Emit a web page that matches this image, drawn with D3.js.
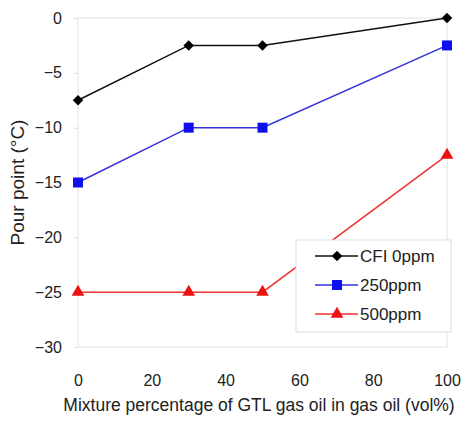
<!DOCTYPE html>
<html>
  <head>
    <meta charset="UTF-8">
    <style>
      body { margin: 0; background: white; font-family: "Liberation Sans", Arial, sans-serif; }
      svg text { fill: #222; }
      .axis text { font-size: 16px; font-family: "Liberation Sans", Arial, sans-serif; }
      .axis line, .axis .domain { stroke: #ddd; }
    </style>
    <script src="https://d3js.org/d3.v7.min.js"></script>
  </head>
  <body>
    <svg id="chart"></svg>
    <script>
      let xValues = [0, 30, 50, 100]
      let seriesNames = ['CFI 0ppm', '250ppm', '500ppm']
      let cfi0 = [-7.5, -2.5, -2.5, 0]
      let cfi250 = [-15, -10, -10, -2.5]
      let cfi500 = [-25, -25, -25, -12.5]
      let xTicks = [0, 20, 40, 60, 80, 100]
      let yTicks = [0, -5, -10, -15, -20, -25, -30]

      let width = 465, height = 421
      let margin = { left: 78, right: 18, top: 18, bottom: 74 }
      let svg = d3.select('#chart').attr('width', width).attr('height', height)

      let x = d3.scaleLinear().domain([0, 100]).range([margin.left, width - margin.right])
      let y = d3.scaleLinear().domain([-30, 0]).range([height - margin.bottom, margin.top])

      // frame
      svg.append('rect')
        .attr('x', x(0)).attr('y', y(0))
        .attr('width', x(100) - x(0)).attr('height', y(-30) - y(0))
        .attr('fill', 'none').attr('stroke', '#e2e2e2')

      svg.append('g')
        .attr('class', 'axis')
        .attr('transform', `translate(0,${y(-30)})`)
        .call(d3.axisBottom(x).tickValues(xTicks).tickSize(0).tickPadding(28))
        .select('.domain').remove()

      svg.append('g')
        .attr('class', 'axis')
        .attr('transform', `translate(${x(0)},0)`)
        .call(d3.axisLeft(y).tickValues(yTicks).tickSize(4).tickPadding(12)
          .tickFormat(d => d < 0 ? '\u2212' + Math.abs(d) : d))
        .select('.domain').remove()

      svg.append('text')
        .attr('x', 259).attr('y', 411)
        .attr('text-anchor', 'middle').attr('font-size', 17.5)
        .text('Mixture percentage of GTL gas oil in gas oil (vol%)')

      svg.append('text')
        .attr('transform', `translate(24,${(y(0) + y(-30)) / 2}) rotate(-90)`)
        .attr('text-anchor', 'middle').attr('font-size', 19)
        .text('Pour point (°C)')

      let series = [
        { name: seriesNames[0], values: cfi0, color: '#000', shape: d3.symbolDiamond2, size: 70 },
        { name: seriesNames[1], values: cfi250, color: '#1010ee', shape: d3.symbolSquare, size: 100 },
        { name: seriesNames[2], values: cfi500, color: '#ee1111', shape: d3.symbolTriangle, size: 70 }
      ]
      let lineColors = ['#111', '#3333dd', '#ee3333']

      let line = d3.line().x(d => x(d[0])).y(d => y(d[1]))

      series.forEach((s, i) => {
        let pts = xValues.map((v, j) => [v, s.values[j]])
        svg.append('path').datum(pts)
          .attr('d', line).attr('fill', 'none')
          .attr('stroke', lineColors[i]).attr('stroke-width', 1.5)
        svg.selectAll(null).data(pts).enter().append('path')
          .attr('transform', d => `translate(${x(d[0])},${y(d[1])})`)
          .attr('d', d3.symbol().type(s.shape).size(s.size))
          .attr('fill', s.color)
      })

      // legend
      let lg = svg.append('g').attr('transform', 'translate(296,240)')
      lg.append('rect').attr('width', 155).attr('height', 92)
        .attr('fill', 'white').attr('stroke', '#ddd')
      series.forEach((s, i) => {
        let cy = 16 + i * 29
        lg.append('line').attr('x1', 19).attr('x2', 62).attr('y1', cy).attr('y2', cy)
          .attr('stroke', lineColors[i]).attr('stroke-width', 1.5)
        lg.append('path').attr('transform', `translate(41,${cy})`)
          .attr('d', d3.symbol().type(s.shape).size(s.size)).attr('fill', s.color)
        lg.append('text').attr('x', 64).attr('y', cy + 6)
          .attr('font-size', 17).text(s.name)
      })
    </script>
  </body>
</html>
